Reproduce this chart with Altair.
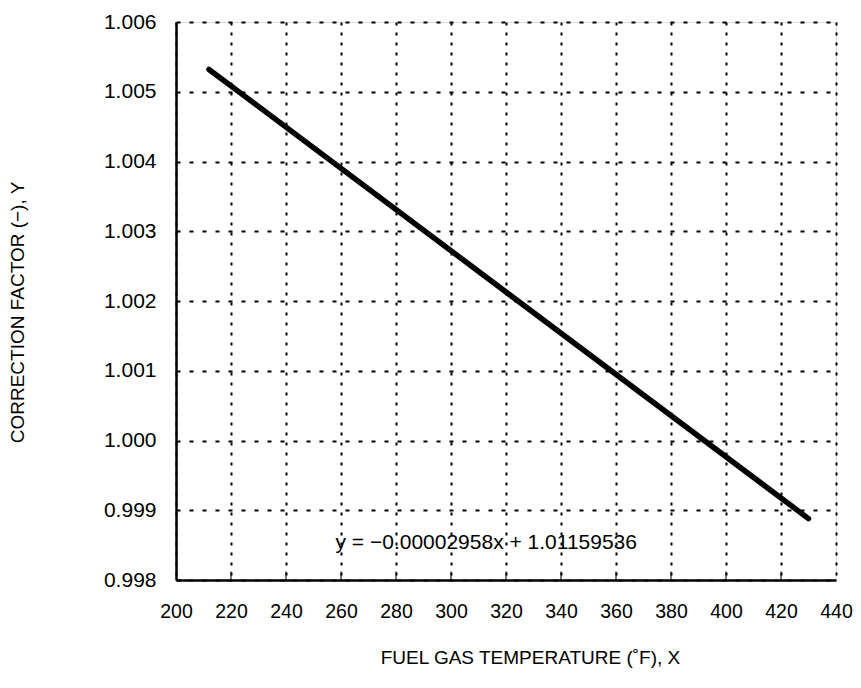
import altair as alt
import pandas as pd

# Data
temps = [212, 430]
factors = [1.00532, 0.99888]
x_ticks = [200, 220, 240, 260, 280, 300, 320, 340, 360, 380, 400, 420, 440]
y_ticks = [0.998, 0.999, 1.000, 1.001, 1.002, 1.003, 1.004, 1.005, 1.006]
eq_text = ["y = −0.00002958x + 1.01159536"]
eq_x = [258]
eq_y = [0.99853]

line_df = pd.DataFrame({"t": temps, "f": factors})
eq_df = pd.DataFrame({"t": eq_x, "f": eq_y, "label": eq_text})
tick_df = pd.DataFrame({"t": x_ticks[1:-1], "f": [0.998] * (len(x_ticks) - 2)})

FONT = "Liberation Sans"

xscale = alt.Scale(domain=[200, 440], nice=False, zero=False)
yscale = alt.Scale(domain=[0.998, 1.006], nice=False, zero=False)

xaxis = alt.Axis(
    values=x_ticks, format="d", title="FUEL GAS TEMPERATURE (˚F), X",
    grid=True, gridColor="black", gridDash=[3, 7], gridWidth=2, gridOpacity=1,
    tickSize=0, labelPadding=22, labelFontSize=19.5, labelColor="black",
    labelFlush=False, labelOverlap=False,
    labelFont=FONT, titleFont=FONT, titleFontSize=19, titleFontWeight="normal",
    titleColor="black", titleX=354, titleY=68,
    domainColor="black", domainWidth=2.5,
)
yaxis = alt.Axis(
    values=y_ticks, format=".3f", title="CORRECTION FACTOR (−), Y",
    grid=True, gridColor="black", gridDash=[4, 9], gridWidth=2, gridOpacity=1,
    tickSize=0, labelPadding=20, labelFontSize=21, labelColor="black",
    labelFlush=False, labelOverlap=False,
    labelFont=FONT, titleFont=FONT, titleFontSize=19, titleFontWeight="normal",
    titleColor="black", titleX=-149, titleY=290,
    domainColor="black", domainWidth=2.5,
)

line = alt.Chart(line_df).mark_line(color="black", strokeWidth=5.5, strokeCap="round").encode(
    x=alt.X("t:Q", scale=xscale, axis=xaxis),
    y=alt.Y("f:Q", scale=yscale, axis=yaxis),
)

ticks = alt.Chart(tick_df).mark_tick(
    color="black", thickness=1.5, size=9, orient="vertical", yOffset=-4
).encode(
    x=alt.X("t:Q", scale=xscale),
    y=alt.Y("f:Q", scale=yscale),
)

eq = alt.Chart(eq_df).mark_text(
    align="left", baseline="middle", fontSize=21, font=FONT, color="black"
).encode(
    x=alt.X("t:Q", scale=xscale),
    y=alt.Y("f:Q", scale=yscale),
    text="label:N",
)

chart = alt.layer(ticks, line, eq).properties(
    width=660, height=558,
    autosize=alt.AutoSizeParams(type="none"),
    padding={"left": 168, "top": 14, "right": 17, "bottom": 94},
).configure_view(
    stroke="black", strokeWidth=1.5
).configure(background="white")

chart.save("out.html", embed_options={"renderer": "svg", "actions": False})
